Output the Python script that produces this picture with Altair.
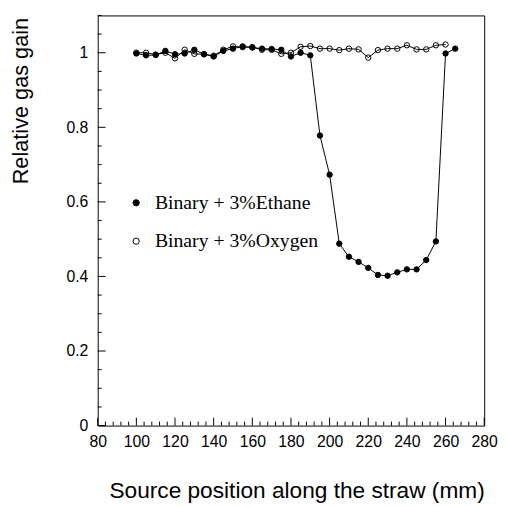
import altair as alt
import pandas as pd

# ---- data ----
series_names = ["Binary + 3%Ethane", "Binary + 3%Oxygen"]

ethane_pos = [100, 105, 110, 115, 120, 125, 130, 135, 140, 145,
              150, 155, 160, 165, 170, 175, 180, 185, 190, 195,
              200, 205, 210, 215, 220, 225, 230, 235, 240, 245,
              250, 255, 260, 265]
ethane_gain = [0.998, 0.993, 0.994, 1.005, 0.996, 0.998, 1.008, 0.996, 0.990, 1.005,
               1.011, 1.017, 1.014, 1.011, 1.010, 1.008, 0.990, 1.000, 0.993, 0.778,
               0.673, 0.488, 0.453, 0.439, 0.423, 0.404, 0.402, 0.411, 0.419, 0.419,
               0.444, 0.494, 0.998, 1.011]

oxygen_pos = [100, 105, 110, 115, 120, 125, 130, 135, 140, 145,
              150, 155, 160, 165, 170, 175, 180, 185, 190, 195,
              200, 205, 210, 215, 220, 225, 230, 235, 240, 245,
              250, 255, 260]
oxygen_gain = [1.000, 1.000, 0.995, 1.000, 0.985, 1.008, 0.997, 0.996, 0.992, 1.008,
               1.017, 1.015, 1.015, 1.008, 1.008, 0.997, 1.000, 1.016, 1.018, 1.011,
               1.011, 1.007, 1.011, 1.009, 0.987, 1.007, 1.011, 1.011, 1.020, 1.009,
               1.009, 1.020, 1.022]

x_labels = [80, 100, 120, 140, 160, 180, 200, 220, 240, 260, 280]
y_labels = [0, 0.2, 0.4, 0.6, 0.8, 1]

df = pd.concat([
    pd.DataFrame({"pos": ethane_pos, "gain": ethane_gain, "series": series_names[0]}),
    pd.DataFrame({"pos": oxygen_pos, "gain": oxygen_gain, "series": series_names[1]}),
], ignore_index=True)

# tick positions (axis furniture)
x_major = pd.DataFrame({"pos": x_labels})
x_minor = pd.DataFrame({"pos": [v for v in range(80, 281, 4) if v % 20 != 0]})
y_major = pd.DataFrame({"gain": [round(v * 0.2, 2) for v in range(0, 6)]})
y_minor = pd.DataFrame({"gain": [round(v * 0.05, 2) for v in range(0, 23) if v % 4 != 0]})

W, H = 392, 416
xs = alt.Scale(domain=[80, 280], nice=False, zero=False)
ys = alt.Scale(domain=[0, 1.1], nice=False, zero=False)

xaxis = alt.Axis(values=x_labels, title="Source position along the straw (mm)",
                 titleX=W, titleY=73, titleAlign="right", titleBaseline="alphabetic",
                 titleFontSize=23, labelPadding=8, labelOverlap=False, labelFlush=False)
yaxis = alt.Axis(values=y_labels, format="~g", title="Relative gas gain",
                 titleX=-71, titleY=2, titleAngle=270, titleAlign="right",
                 titleBaseline="alphabetic", titleFontSize=22, labelPadding=10,
                 labelOverlap=False, labelFlush=False)

X = alt.X("pos:Q", scale=xs, axis=xaxis)
Y = alt.Y("gain:Q", scale=ys, axis=yaxis)

lines = alt.Chart(df).mark_line(color="black", strokeWidth=1).encode(
    x=X, y=Y, detail="series:N",
)

points = alt.Chart(df).mark_point(filled=True, stroke="black", strokeWidth=1,
                                  size=30, opacity=1).encode(
    x=X, y=Y,
    fill=alt.Fill("series:N",
                  scale=alt.Scale(domain=series_names, range=["black", "transparent"]),
                  legend=alt.Legend(orient="none", legendX=29, legendY=180, title=None,
                                    labelFont="Liberation Serif", labelFontSize=20,
                                    labelColor="black", labelLimit=400,
                                    symbolType="circle", symbolSize=40,
                                    symbolStrokeColor="black", symbolStrokeWidth=1,
                                    labelOffset=9, rowPadding=19, padding=0)),
)

def xticks(d, L):
    return alt.Chart(d).mark_rule(color="black", strokeWidth=1).encode(
        x=X, y=alt.value(H), y2=alt.value(H - L))

def yticks(d, L):
    return alt.Chart(d).mark_rule(color="black", strokeWidth=1).encode(
        y=Y, x=alt.value(0), x2=alt.value(L))

chart = alt.layer(
    lines, points,
    xticks(x_major, 8), xticks(x_minor, 4), yticks(y_major, 8), yticks(y_minor, 4),
).properties(
    width=W, height=H,
    autosize=alt.AutoSizeParams(type="none"),
    padding={"left": 91, "top": 4, "right": 14, "bottom": 78},
    background="white",
).configure_view(
    stroke="black", strokeWidth=1
).configure_axis(
    ticks=False, domain=False, grid=False,
    labelFont="Liberation Sans", labelFontSize=16, labelColor="black",
    titleFont="Liberation Sans", titleFontWeight="normal", titleColor="black",
)

chart.save("out.html", embed_options={"renderer": "svg", "actions": False})
